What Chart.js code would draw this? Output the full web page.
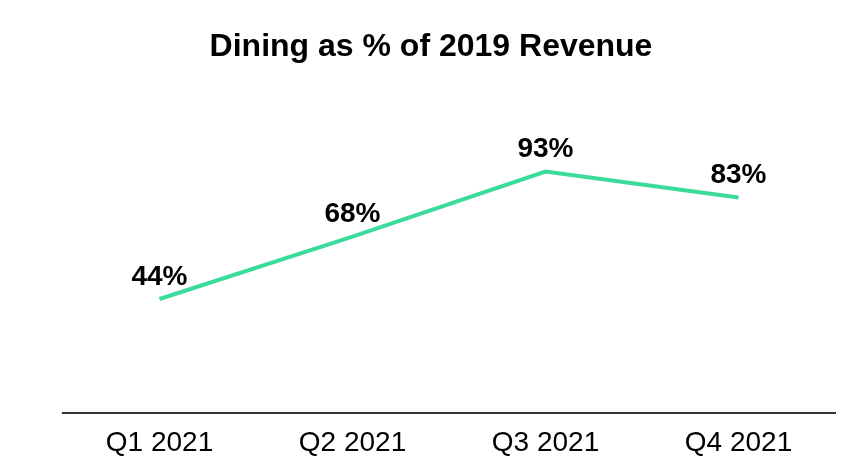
<!DOCTYPE html>
<html>
<head>
<meta charset="utf-8">
<script src="https://cdn.jsdelivr.net/npm/chart.js@4"></script>
<style>
    body { margin: 0; background: #fff; }
    #wrap { width: 862px; height: 476px; }
</style>
</head>
<body>
<div id="wrap"><canvas id="myChart"></canvas></div>
<script>
const quarters = ["Q1 2021", "Q2 2021", "Q3 2021", "Q4 2021"];
const diningPct = [44, 68, 93, 83];
const pctLabels = ["44%", "68%", "93%", "83%"];

// draws the % labels above each point
const pointLabels = {
    id: "pointLabels",
    afterDatasetsDraw(chart) {
        const ctx = chart.ctx;
        const meta = chart.getDatasetMeta(0);
        ctx.save();
        ctx.font = "bold 28px 'Liberation Sans', Arial, sans-serif";
        ctx.fillStyle = "#000";
        ctx.textAlign = "center";
        ctx.textBaseline = "middle";
        meta.data.forEach((pt, i) => {
            ctx.fillText(pctLabels[i], pt.x, pt.y - 22);
        });
        ctx.restore();
    },
};

const ctx = document.getElementById("myChart");

new Chart(ctx, {
    type: "line",
    data: {
        labels: quarters,
        datasets: [
            {
                data: diningPct,
                borderColor: "#3bdb9c",
                borderWidth: 4,
                pointRadius: 0,
                tension: 0,
            },
        ],
    },
    options: {
        responsive: true,
        maintainAspectRatio: false,
        animation: false,
        layout: {
            padding: { top: 28, bottom: 3, left: 27, right: 27 },
        },
        plugins: {
            legend: { display: false },
            tooltip: { enabled: false },
            title: {
                display: true,
                text: "Dining as % of 2019 Revenue",
                color: "#000",
                font: { family: "'Liberation Sans', Arial, sans-serif", size: 32, weight: "bold", lineHeight: 1.2 },
                padding: { top: 0, bottom: 87 },
            },
        },
        scales: {
            x: {
                offset: true,
                grid: { display: false, drawTicks: false },
                border: { display: true, color: "#333", width: 2 },
                ticks: {
                    color: "#000",
                    padding: 13,
                    font: { family: "'Liberation Sans', Arial, sans-serif", size: 28 },
                },
            },
            y: {
                min: 0,
                max: 100,
                grid: { display: false, drawTicks: false },
                border: { display: false },
                ticks: { display: false },
                afterFit(scale) {
                    scale.width = 36;
                },
            },
        },
    },
    plugins: [pointLabels],
});
</script>
</body>
</html>
